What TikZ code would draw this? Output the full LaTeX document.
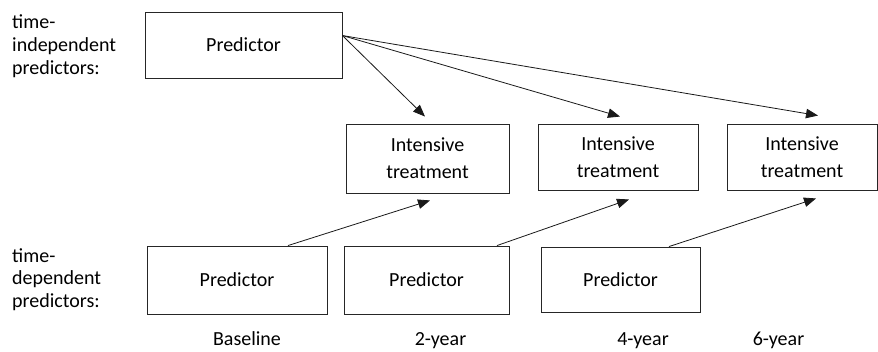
\documentclass[tikz,border=0pt]{standalone}
\usepackage{fontspec}
\setmainfont{Carlito}
\usetikzlibrary{arrows.meta}
\begin{document}
\begin{tikzpicture}[x=1pt,y=-1pt,
  box/.style={draw=black!85,line width=0.9pt,rectangle,inner sep=0pt,align=center,
    font=\fontsize{20}{27}\selectfont},
  conn/.style={draw=black!90,line width=0.8pt,-{Triangle[length=12pt,width=9.5pt]}},
  lbl/.style={inner sep=0pt,font=\fontsize{20}{23}\selectfont}]
\useasboundingbox (0,0) rectangle (878,351);
% top predictor
\node[box,minimum width=197pt,minimum height=66pt] (P0) at (243.5,45) {Predictor};
% intensive treatment boxes
\node[box,minimum width=163pt,minimum height=69pt] (IT1) at (427.5,158.5) {Intensive\\treatment};
\node[box,minimum width=160pt,minimum height=66pt] (IT2) at (618,157) {Intensive\\treatment};
\node[box,minimum width=150pt,minimum height=66pt] (IT3) at (802,157) {Intensive\\treatment};
% bottom predictors
\node[box,minimum width=180pt,minimum height=68pt] (B1) at (237,280) {Predictor};
\node[box,minimum width=165pt,minimum height=68pt] (B2) at (426.5,280) {Predictor};
\node[box,minimum width=159pt,minimum height=65pt] (B3) at (620.5,279.5) {Predictor};
% left labels
\node[lbl,anchor=base west] (L1) at (12,28) {\parbox[t]{120pt}{\fontsize{20}{23}\selectfont\raggedright time-\\independent\\predictors:}};
\node[lbl,anchor=base west] (L2) at (12,262) {\parbox[t]{120pt}{\fontsize{20}{22.5}\selectfont\raggedright time-\\dependent\\predictors:}};
% time labels
\node[lbl,anchor=base] (T0) at (247,345.5) {Baseline};
\node[lbl,anchor=base] (T2) at (440.5,345.5) {2-year};
\node[lbl,anchor=base] (T4) at (643,345.5) {4-year};
\node[lbl,anchor=base] (T6) at (778.5,345.5) {6-year};
% arrows from time-independent predictor
\coordinate (src) at ([yshift=-24pt]P0.north east);
\draw[conn] (src) -- ([xshift=-2.5pt,yshift=7pt]IT1.north);
\draw[conn] (src) -- ([xshift=2pt,yshift=7pt]IT2.north);
\draw[conn] (src) -- ([xshift=16pt,yshift=8pt]IT3.north);
% arrows from time-dependent predictors
\draw[conn] ([xshift=51pt]B1.north) -- ([xshift=2.5pt,yshift=-7pt]IT1.south);
\draw[conn] ([xshift=70.5pt]B2.north) -- ([xshift=11pt,yshift=-9pt]IT2.south);
\draw[conn] ([xshift=48.5pt]B3.north) -- ([xshift=14pt,yshift=-8pt]IT3.south);
\end{tikzpicture}
\end{document}
